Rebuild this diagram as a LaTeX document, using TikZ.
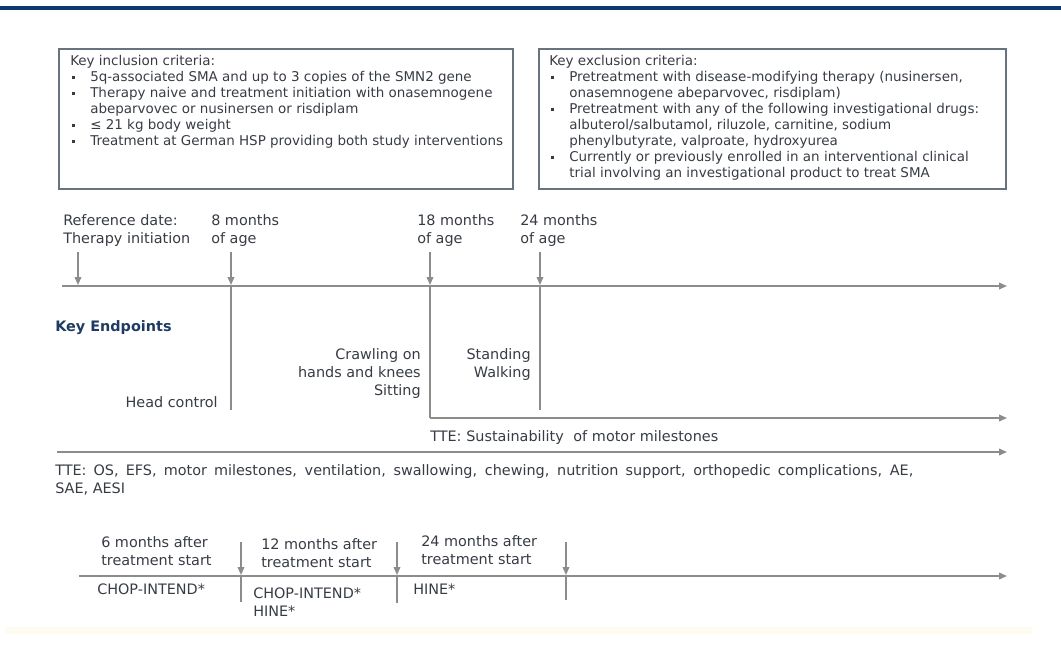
\documentclass[tikz,border=0pt]{standalone}
\usepackage{fontspec}
\setmainfont{DejaVu Sans}
\usetikzlibrary{arrows.meta}
\definecolor{topbar}{RGB}{10,58,110}
\definecolor{txtgray}{RGB}{55,60,68}
\definecolor{linegray}{RGB}{140,140,140}
\definecolor{boxgray}{RGB}{105,115,125}
\definecolor{keyblue}{RGB}{31,59,99}
\definecolor{cream}{RGB}{254,252,240}
\newcommand{\critem}{\makebox[15pt][l]{\hspace{1pt}\raisebox{1.6pt}{\rule{2.5pt}{2.5pt}}}}
\newcommand{\critcont}{\hspace*{15pt}}
\begin{document}
\begin{tikzpicture}[x=0.75pt,y=-0.75pt,
  lbl/.style={inner sep=0pt,text=txtgray,font=\fontsize{10.8}{13.5}\selectfont},
  crit/.style={inner sep=0pt,text=txtgray,font=\fontsize{10.1}{12}\selectfont,align=left,anchor=north west},
  critbox/.style={draw=boxgray,line width=0.8pt},
  tl/.style={draw=linegray,line width=1.1pt},
  tlarrow/.style={tl,-{Triangle[length=6pt,width=5pt]}}]
  \useasboundingbox (0,0) rectangle (1061,647);
  \draw[topbar,line width=2.4pt] (0,8) -- (1061,8);

  \draw[critbox] (59,49) rectangle (513,189);
  \draw[critbox] (539,49) rectangle (1006,189);
  \node[crit] (incl) at (70,55) {Key inclusion criteria:\\
    \critem 5q-associated SMA and up to 3 copies of the SMN2 gene\\
    \critem Therapy naive and treatment initiation with onasemnogene\\
    \critcont abeparvovec or nusinersen or risdiplam\\
    \critem ≤ 21 kg body weight\\
    \critem Treatment at German HSP providing both study interventions};
  \node[crit] (excl) at (549,55) {Key exclusion criteria:\\
    \critem Pretreatment with disease-modifying therapy (nusinersen,\\
    \critcont onasemnogene abeparvovec, risdiplam)\\
    \critem Pretreatment with any of the following investigational drugs:\\
    \critcont albuterol/salbutamol, riluzole, carnitine, sodium\\
    \critcont phenylbutyrate, valproate, hydroxyurea\\
    \critem Currently or previously enrolled in an interventional clinical\\
    \critcont trial involving an investigational product to treat SMA};

  \node[lbl,anchor=north west,align=left] (refdate) at (63,214) {Reference date:\\Therapy initiation};
  \node[lbl,anchor=north west,align=left] (age8) at (211,214) {8 months\\of age};
  \node[lbl,anchor=north west,align=left] (age18) at (417,214) {18 months\\of age};
  \node[lbl,anchor=north west,align=left] (age24) at (520,214) {24 months\\of age};

  \coordinate (start) at (62,286);
  \coordinate (end) at (1007,286);
  \coordinate (a0) at (78,252);
  \coordinate (a8) at (231,252);
  \coordinate (a18) at (430,252);
  \coordinate (a24) at (540,252);
  \coordinate (t0) at (78,285);
  \coordinate (t8) at (231,285);
  \coordinate (t18) at (430,285);
  \coordinate (t24) at (540,285);
  \draw[tlarrow] (start) -- (end);
  \draw[tlarrow] (a0) -- (t0);
  \draw[tlarrow] (a8) -- (t8);
  \draw[tlarrow] (a18) -- (t18);
  \draw[tlarrow] (a24) -- (t24);

  \node[anchor=west,inner sep=0pt,text=keyblue,font=\fontsize{10.8}{13}\selectfont\bfseries] (keyend) at (55,328) {Key Endpoints};

  \coordinate (e8) at (231,410);
  \coordinate (e18) at (430,418);
  \coordinate (e24) at (540,410);
  \coordinate (send) at (1007,418);
  \draw[tl] (t8) -- (e8);
  \draw[tl] (t18) -- (e18);
  \draw[tl] (t24) -- (e24);
  \draw[tlarrow] (e18) -- (send);

  \node[lbl,anchor=north east,align=right] (headctl) at (218,396) {Head control};
  \node[lbl,anchor=north east,align=right] (crawl) at (421,348) {Crawling on\\hands and knees\\Sitting};
  \node[lbl,anchor=north east,align=right] (stand) at (531,348) {Standing\\Walking};
  \node[lbl,anchor=north west,align=left] (sustain) at (430,430) {\makebox[216pt][s]{TTE: Sustainability \ of motor milestones}};

  \coordinate (lstart) at (57,452);
  \coordinate (lend) at (1007,452);
  \draw[tlarrow] (lstart) -- (lend);
  \node[lbl,anchor=north west,align=left] (tteall) at (55,464) {\makebox[643.5pt][s]{TTE: OS, EFS, motor milestones, ventilation, swallowing, chewing, nutrition support, orthopedic complications, AE,}\\SAE, AESI};

  \node[lbl,anchor=north west,align=left] (m6) at (101,536) {6 months after\\treatment start};
  \node[lbl,anchor=north west,align=left] (m12) at (261,538) {12 months after\\treatment start};
  \node[lbl,anchor=north west,align=left] (m24) at (421,535) {24 months after\\treatment start};

  \coordinate (bstart) at (79,576);
  \coordinate (bend) at (1007,576);
  \coordinate (b6) at (241,542);
  \coordinate (b12) at (397,542);
  \coordinate (b24) at (566,542);
  \coordinate (c6) at (241,575);
  \coordinate (c12) at (397,575);
  \coordinate (c24) at (566,575);
  \coordinate (d6) at (241,602);
  \coordinate (d12) at (397,603);
  \coordinate (d24) at (566,600);
  \draw[tlarrow] (bstart) -- (bend);
  \draw[tlarrow] (b6) -- (c6);
  \draw[tlarrow] (b12) -- (c12);
  \draw[tlarrow] (b24) -- (c24);
  \draw[tl] (c6) -- (d6);
  \draw[tl] (c12) -- (d12);
  \draw[tl] (c24) -- (d24);

  \node[lbl,anchor=north west,align=left] (chop6) at (97,584) {CHOP-INTEND*};
  \node[lbl,anchor=north west,align=left] (chop12) at (253,588) {CHOP-INTEND*\\HINE*};
  \node[lbl,anchor=north west,align=left] (hine24) at (413,584) {HINE*};

  \fill[cream] (5,627) rectangle (1032,634);
\end{tikzpicture}
\end{document}
